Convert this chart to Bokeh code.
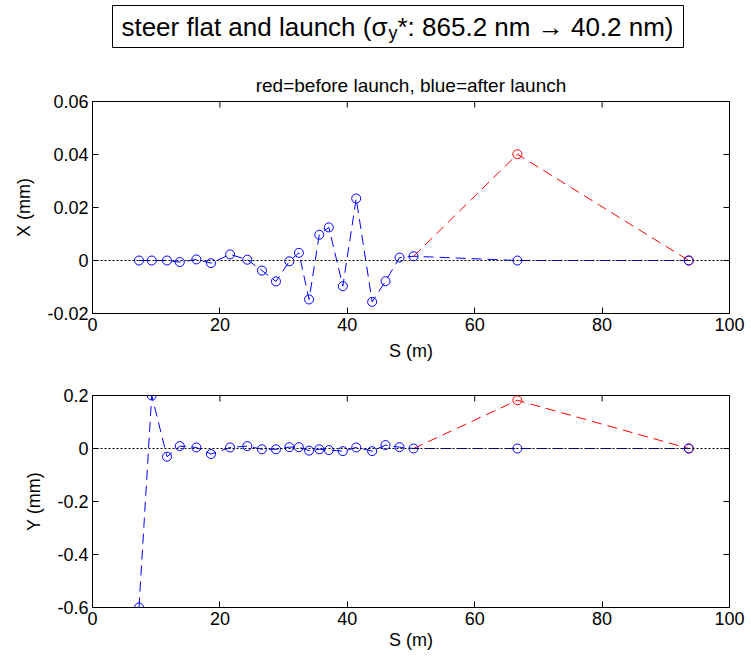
import math
from bokeh.plotting import figure
from bokeh.layouts import column
from bokeh.models import Range1d, FixedTicker, Span
from bokeh.core.properties import value
from bokeh.embed import file_html
from bokeh.resources import INLINE

# ---------------- data ----------------
s_pos = [7.3, 9.3, 11.7, 13.7, 16.3, 18.6, 21.6, 24.3, 26.6, 28.8, 30.9, 32.4,
         34.0, 35.6, 37.1, 39.3, 41.4, 43.9, 46.0, 48.2, 50.4, 66.7, 93.6]
x_after = [0.0, 0.0, 0.0, -0.0006, 0.0004, -0.001, 0.0023, 0.0003, -0.0038, -0.0079,
           -0.0003, 0.0029, -0.0147, 0.0097, 0.0125, -0.0097, 0.0234, -0.0156,
           -0.0078, 0.0011, 0.0016, 0.0, 0.0]
y_after = [-0.6, 0.2, -0.031, 0.009, 0.004, -0.021, 0.004, 0.009, -0.003, -0.003,
           0.005, 0.005, -0.008, -0.003, -0.006, -0.01, 0.004, -0.01, 0.013,
           0.005, 0.0, 0.0, 0.0]
s_before = [50.4, 66.7, 93.6]
x_before = [0.0016, 0.0401, 0.0]
y_before = [0.0, 0.182, 0.0]

x_ticks = [0, 20, 40, 60, 80, 100]
x_tick_labels = ["0", "20", "40", "60", "80", "100"]
top_ticks = [-0.02, 0, 0.02, 0.04, 0.06]
top_tick_labels = ["-0.02", "0", "0.02", "0.04", "0.06"]
bot_ticks = [-0.6, -0.4, -0.2, 0, 0.2]
bot_tick_labels = ["-0.6", "-0.4", "-0.2", "0", "0.2"]

title_left = "steer flat and launch (\u03c3"
title_sub = "y"
title_right = "*: 865.2 nm \u2192 40.2 nm)"
subtitle = "red=before launch, blue=after launch"

FONT = "Liberation Sans"
W = 750
BL = 92   # left border (frame starts at page x=92)
BR = 21   # right border (frame ends at page x=729)

# ---------------- title block (x data == page x) ----------------
tf = figure(width=W, height=56, x_range=Range1d(BL, W - BR), y_range=Range1d(56, 0),
            x_axis_type=None, y_axis_type=None, output_backend="svg",
            toolbar_location=None, min_border_left=BL, min_border_right=BR,
            min_border_top=0, min_border_bottom=0)
tf.outline_line_color = None
tf.grid.visible = False
tf.quad(left=[112], right=[683], top=[5], bottom=[47], fill_color=None,
        line_color="black", line_width=1, level="overlay")
tf.text(x=[387], y=[26], text=[title_left], text_align="right", text_baseline="alphabetic",
        text_font=value(FONT), text_font_size=value("26px"), text_color="black")
tf.text(x=[388], y=[32], text=[title_sub], text_align="left", text_baseline="alphabetic",
        text_font=value(FONT), text_font_size=value("18px"), text_color="black")
tf.text(x=[397], y=[26], text=[title_right], text_align="left", text_baseline="alphabetic",
        text_font=value(FONT), text_font_size=value("26px"), text_color="black")


def style_axis(ax, ticks, labels):
    ax.ticker = FixedTicker(ticks=ticks)
    ax.major_label_overrides = {t: l for t, l in zip(ticks, labels)}
    ax.axis_line_color = "black"
    ax.major_tick_line_color = "black"
    ax.major_tick_in = 6
    ax.major_tick_out = 0
    ax.minor_tick_line_color = None
    ax.major_label_text_font = FONT
    ax.major_label_text_font_size = "18px"
    ax.major_label_standoff = 4
    ax.major_label_text_color = "black"
    ax.axis_label_text_font = FONT
    ax.axis_label_text_font_style = "normal"
    ax.axis_label_text_font_size = "18px"
    ax.axis_label_text_color = "black"


def make_panel(height, btop, bbottom, yr, yticks, ylabels, ylabel, yvals_after, yvals_before):
    p = figure(width=W, height=height, x_range=Range1d(0, 100), y_range=Range1d(*yr),
               output_backend="svg", toolbar_location=None,
               min_border_left=BL, min_border_right=BR,
               min_border_top=btop, min_border_bottom=bbottom)
    p.grid.visible = False
    p.outline_line_color = "black"
    style_axis(p.xaxis[0], x_ticks, x_tick_labels)
    style_axis(p.yaxis[0], yticks, ylabels)
    p.xaxis.axis_label = "S (m)"
    p.yaxis.axis_label = ylabel
    p.yaxis.axis_label_standoff = 10
    # mirrored inward ticks on the right and top edges of the box
    p.scatter([x_ticks[-1]] * len(yticks), yticks, marker="dash", size=12,
              line_color="black", line_width=1)
    p.scatter(x_ticks, [yr[1]] * len(x_ticks), marker="dash", size=12, angle=math.pi / 2,
              line_color="black", line_width=1)
    p.add_layout(Span(location=0, dimension="width", line_color="black",
                      line_dash="2 2", line_width=1))
    p.line(s_before, yvals_before, line_color="red", line_dash="10 6", line_width=1)
    p.scatter(s_before[1:], yvals_before[1:], marker="circle", size=9,
              fill_color=None, line_color="red", line_width=1)
    p.line(s_pos, yvals_after, line_color="blue", line_dash="10 6", line_width=1)
    p.scatter(s_pos, yvals_after, marker="circle", size=9,
              fill_color=None, line_color="blue", line_width=1)
    return p


p1 = make_panel(316, 45, 59, (-0.02, 0.06), top_ticks, top_tick_labels, "X (mm)",
                x_after, x_before)
p1.xaxis.axis_label_standoff = 7
p1.title.text = subtitle
p1.title.align = "center"
p1.title.text_font = FONT
p1.title.text_font_size = "19px"
p1.title.text_font_style = "normal"
p1.title.text_color = "black"
p1.title.standoff = 11

p2 = make_panel(286, 23, 51, (-0.6, 0.2), bot_ticks, bot_tick_labels, "Y (mm)",
                y_after, y_before)
p2.xaxis.axis_label_standoff = 2

layout = column(tf, p1, p2, spacing=0)
open("out.html", "w").write(file_html(layout, INLINE))
